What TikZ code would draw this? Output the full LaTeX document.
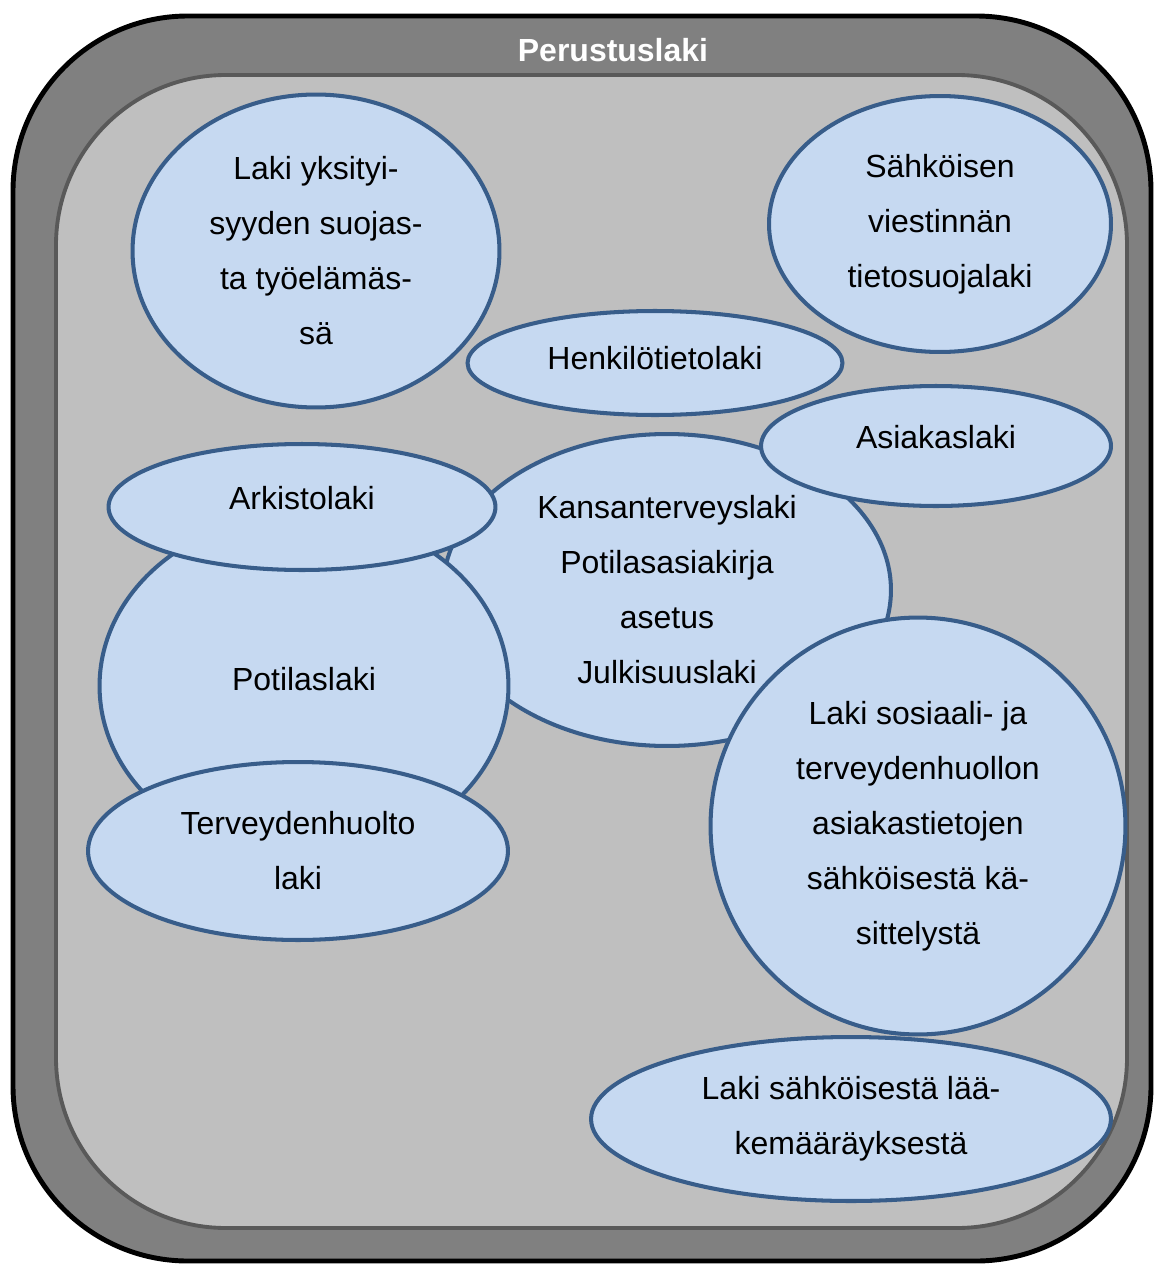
\documentclass[tikz,border=0pt]{standalone}
\usepackage{fontspec}
\setmainfont{Liberation Sans}
\usetikzlibrary{shapes.geometric}

\definecolor{lawfill}{HTML}{C6D9F1}
\definecolor{lawline}{HTML}{385D8A}
\definecolor{frameout}{HTML}{808080}
\definecolor{framein}{HTML}{BFBFBF}
\definecolor{frameline}{HTML}{595959}

\begin{document}
\begin{tikzpicture}[x=0.02cm, y=-0.02cm,
  font=\fontsize{18.2}{31.3}\selectfont,
  law/.style={ellipse, draw=lawline, line width=2.3pt, fill=lawfill, align=center, inner sep=0pt},
  raised/.style={text depth=#1},
  title/.style={text=white, font=\fontsize{18.2}{22}\selectfont\bfseries}]
\useasboundingbox (0,0) rectangle (1154,1264);
% frame: outer and inner boxes
\draw[fill=frameout, line width=2.8pt, rounded corners=3.5cm] (13,16) rectangle (1151,1261);
\draw[fill=framein, draw=frameline, line width=2.2pt, rounded corners=3.4cm] (56,75) rectangle (1127,1228);
\node[title] (perustus) at (613,50) {Perustuslaki};
% laws
\node[law, minimum width=7.34cm, minimum height=6.26cm] (yksityisyys) at (316,251) {Laki yksityi-\\syyden suojas-\\ta työelämäs-\\sä};
\node[law, minimum width=6.84cm, minimum height=5.12cm] (viestinta) at (940,224) {Sähköisen\\viestinnän\\tietosuojalaki};
\node[law, raised=0.2cm, minimum width=7.5cm, minimum height=2.08cm] (henkilo) at (655,363) {Henkilötietolaki};
\node[law, minimum width=8.96cm, minimum height=6.24cm] (kansanterveys) at (667,590) {Kansanterveyslaki\\Potilasasiakirja\\asetus\\Julkisuuslaki};
\node[law, raised=0.36cm, minimum width=7.0cm, minimum height=2.4cm] (asiakas) at (936,446) {Asiakaslaki};
\node[law, raised=0.28cm, minimum width=8.18cm, minimum height=6.88cm] (potilas) at (304,686) {Potilaslaki};
\node[law, raised=0.36cm, minimum width=7.74cm, minimum height=2.52cm] (arkisto) at (302,507) {Arkistolaki};
\node[law, minimum width=8.4cm, minimum height=3.56cm] (terveydenhuolto) at (298,851) {Terveydenhuolto\\laki};
\node[law, minimum width=8.3cm, minimum height=8.34cm] (sosiaali) at (918,826) {Laki sosiaali- ja\\terveydenhuollon\\asiakastietojen\\sähköisestä kä-\\sittelystä};
\node[law, minimum width=10.4cm, minimum height=3.28cm] (laakemaarays) at (851,1119) {Laki sähköisestä lää-\\kemääräyksestä};
\end{tikzpicture}
\end{document}
